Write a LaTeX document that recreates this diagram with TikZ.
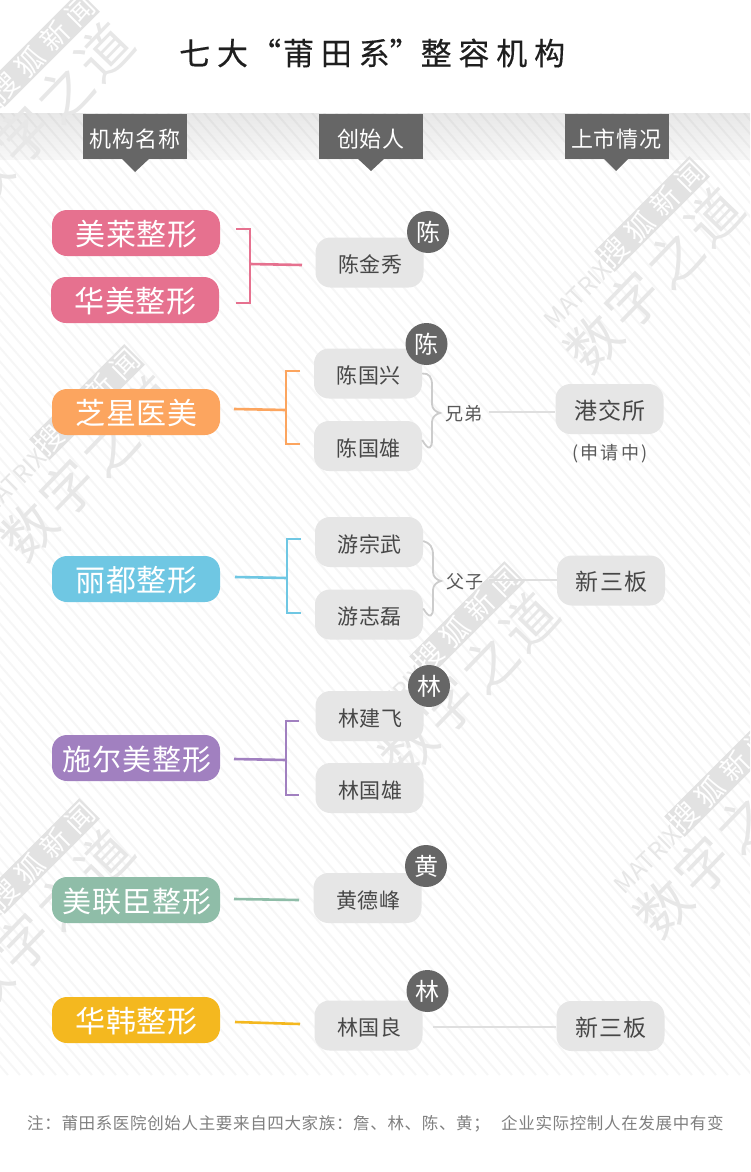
\documentclass[tikz,border=0pt]{standalone}
\usepackage{fontspec}
\setmainfont{Noto Sans CJK SC}
\newcommand{\fs}[2]{\fontsize{#1}{#1}\selectfont\addfontfeature{LetterSpace=#2}}
\definecolor{tabgray}{HTML}{666666}
\definecolor{boxgray}{HTML}{E6E6E6}
\definecolor{wmgray}{HTML}{E7E7E7}
\definecolor{bandgray}{HTML}{E2E2E2}
\definecolor{linegray}{HTML}{DFDFDF}
\definecolor{bracegray}{HTML}{CCCCCC}
\definecolor{cpink}{HTML}{E6718F}
\definecolor{corange}{HTML}{FCA55F}
\definecolor{cblue}{HTML}{6FC7E3}
\definecolor{cpurple}{HTML}{A180C0}
\definecolor{cgreen}{HTML}{8FBDA8}
\definecolor{cyellow}{HTML}{F4B81F}
\tikzset{
  pill/.style={rounded corners=15pt,minimum width=168pt,minimum height=46pt,inner sep=0pt,text=white,fill=#1,text height=29pt,text depth=5pt,font=\fs{30}{3.3}\kern1pt},
  pillwide/.style={pill=#1,font=\fs{29}{3.4}\kern2pt},
  person/.style={rounded corners=15pt,fill=boxgray,minimum width=108pt,minimum height=50pt,inner sep=0pt,text=black!72,text height=24pt,text depth=4pt,font=\fs{21}{3}\kern1.5pt},
  market/.style={person,text height=25pt,text depth=5pt,font=\fs{23}{6}\kern1pt},
  badge/.style={circle,fill=tabgray,minimum size=42pt,inner sep=0pt,text=white,font=\fs{24}{0}},
  tabbox/.style={fill=tabgray,minimum width=104pt,minimum height=45pt,inner sep=0pt,text=white,text height=25pt,text depth=4pt,font=\fs{22}{4.5}},
  tabtip/.style={fill=tabgray},
  conn/.style={line width=2.6pt,draw=#1},
  bracel/.style={line width=1.8pt,draw=bracegray},
  rel/.style={line width=2pt,draw=linegray},
  rellabel/.style={inner sep=0pt,text=black!65,font=\fs{18}{3}},
  wmbig/.style={text=wmgray,inner sep=0pt,rotate=46,font=\fs{54}{8}},
  wmmat/.style={text=wmgray,inner sep=0pt,rotate=45,font=\fs{24}{0}},
  wmband/.style={fill=bandgray,text=white,inner sep=0pt,rotate=45,minimum width=128pt,minimum height=29pt,font=\fs{28}{27}},
}
\newcommand{\wm}[3]{%
  \begin{scope}[shift={(#1,#2)}]
    \node[wmbig] (#3big) at (654,280) {数字之道};
    \node[wmmat] (#3mat) at (578,295) {MATRIX};
    \node[wmband] (#3band) at (652,214) {搜狐新闻};
  \end{scope}}
\begin{document}
\begin{tikzpicture}[x=1pt,y=-1pt]
\useasboundingbox (0,0) rectangle (750,1172);
\begin{scope}
\clip (0,0) rectangle (750,1172);
\fill[white] (0,0) rectangle (750,1172);
\shade[top color=black!9,bottom color=black!3] (0,113) rectangle (750,159);
\begin{scope}
\clip (0,113) rectangle (750,1075);
\foreach \i in {-1200,-1188,...,760}
  \draw[black,opacity=0.035,line width=2pt] (\i,113) -- ++(836,962);
\end{scope}
\wm{-610}{-165}{wa}
\wm{0}{0}{wb}
\wm{-185}{405}{wc}
\wm{-565}{188}{wd}
\wm{-610}{642}{we}
\wm{70}{565}{wf}
\end{scope}

% title
\node[anchor=west,inner sep=0pt,text=black!88,font=\fs{31}{22}\addfontfeature{FakeBold=0.25}] (title) at (179,53) {七大\kern2pt“\kern2pt莆田系\kern0pt”\kern0pt整容机构};

% header tabs
\fill[tabtip] (121,158) -- (150,158) -- (135,172) -- cycle;
\fill[tabtip] (357,158) -- (385,158) -- (371,171) -- cycle;
\fill[tabtip] (603,158) -- (629,158) -- (616,171) -- cycle;
\node[tabbox] (h1) at (135,136.5) {机构名称};
\node[tabbox] (h2) at (371,136.5) {创始人};
\node[tabbox] (h3) at (616.5,136.5) {上市情况};

% organisations
\node[pill=cpink] (o1) at (136,233) {美莱整形};
\node[pill=cpink] (o2) at (135,300) {华美整形};
\node[pill=corange] (o3) at (136,412) {芝星医美};
\node[pill=cblue] (o4) at (136,579) {丽都整形};
\node[pillwide=cpurple] (o5) at (136,758) {施尔美整形};
\node[pillwide=cgreen] (o6) at (136,900) {美联臣整形};
\node[pill=cyellow] (o7) at (136,1020) {华韩整形};

% founders
\node[person] (f1) at (369.5,262.5) {陈金秀};
\node[person] (f2) at (368,373.5) {陈国兴};
\node[person] (f3) at (368,446) {陈国雄};
\node[person] (f4) at (369,542) {游宗武};
\node[person] (f5) at (369,614.5) {游志磊};
\node[person] (f6) at (369.5,716) {林建飞};
\node[person] (f7) at (369.5,788) {林国雄};
\node[person] (f8) at (367.5,898) {黄德峰};
\node[person] (f9) at (368.5,1025.5) {林国良};

% badges
\node[badge] (b1) at (428,232) {陈};
\node[badge] (b2) at (426.5,344) {陈};
\node[badge] (b3) at (429,686) {林};
\node[badge] (b4) at (426,866) {黄};
\node[badge] (b5) at (427.5,991) {林};

% listing
\node[market] (m1) at (609.5,409) {港交所};
\node[market] (m2) at (611,580.5) {新三板};
\node[market] (m3) at (610.5,1026) {新三板};
\node[inner sep=0pt,text=black!65,font=\fs{18}{12}] (m1n) at (610,454) {(申请中)};

% coloured brackets
\coordinate (pa) at (236,229); \coordinate (pm) at (250,264); \coordinate (pb) at (236,303); \coordinate (pe) at (302,265);
\draw[conn=cpink] (pa) -| (pm) |- (pb);
\draw[conn=cpink] (pm) -- (pe);
\coordinate (oa) at (300,371); \coordinate (om) at (286,410); \coordinate (ob) at (300,444); \coordinate (os) at (234,409);
\draw[conn=corange] (oa) -| (om) |- (ob);
\draw[conn=corange] (os) -- (om);
\coordinate (ba) at (301,539); \coordinate (bm) at (287,578); \coordinate (bb) at (301,613); \coordinate (bs) at (235,577);
\draw[conn=cblue] (ba) -| (bm) |- (bb);
\draw[conn=cblue] (bs) -- (bm);
\coordinate (va) at (299,721); \coordinate (vm) at (286,760); \coordinate (vb) at (299,795); \coordinate (vs) at (234,759);
\draw[conn=cpurple] (va) -| (vm) |- (vb);
\draw[conn=cpurple] (vs) -- (vm);
\coordinate (gs) at (234,899); \coordinate (ge) at (299,900);
\draw[conn=cgreen] (gs) -- (ge);
\coordinate (ys) at (235,1022); \coordinate (ye) at (300,1024);
\draw[conn=cyellow] (ys) -- (ye);

% relation braces
\coordinate (t1) at (440,413);
\draw[bracel] (f2.east) .. controls (429,373) and (432,377) .. (432,385) -- (432,404) .. controls (432,409) and (436,412) .. (t1) .. controls (436,414) and (432,417) .. (432,422) -- (432,440) .. controls (432,448) and (429,452) .. ([yshift=6pt]f3.east);
\coordinate (t2) at (441,581);
\draw[bracel] ([yshift=1pt]f4.east) .. controls (430,543) and (433,547) .. (433,555) -- (433,572) .. controls (433,577) and (437,580) .. (t2) .. controls (437,582) and (433,585) .. (433,590) -- (433,608) .. controls (433,616) and (430,620) .. ([yshift=6pt]f5.east);
\node[rellabel] (r1) at (464,414) {兄弟};
\node[rellabel] (r2) at (465,582) {父子};
\coordinate (c1) at (489,412); \coordinate (c2) at (489,580); \coordinate (c3) at (433,1027);
\draw[rel] (c1) -- (c1 -| m1.west);
\draw[rel] (c2) -- (c2 -| m2.west);
\draw[rel] (c3) -- (c3 -| m3.west);

% footnote
\node[anchor=west,inner sep=0pt,text=black!50,font=\fs{16.5}{4}] (n1) at (27,1124) {注：莆田系医院创始人主要来自四大家族：詹、林、陈、黄；};
\node[anchor=west,inner sep=0pt,text=black!50,font=\fs{16.5}{4}] (n2) at (501,1123) {企业实际控制人在发展中有变};
\end{tikzpicture}
\end{document}
